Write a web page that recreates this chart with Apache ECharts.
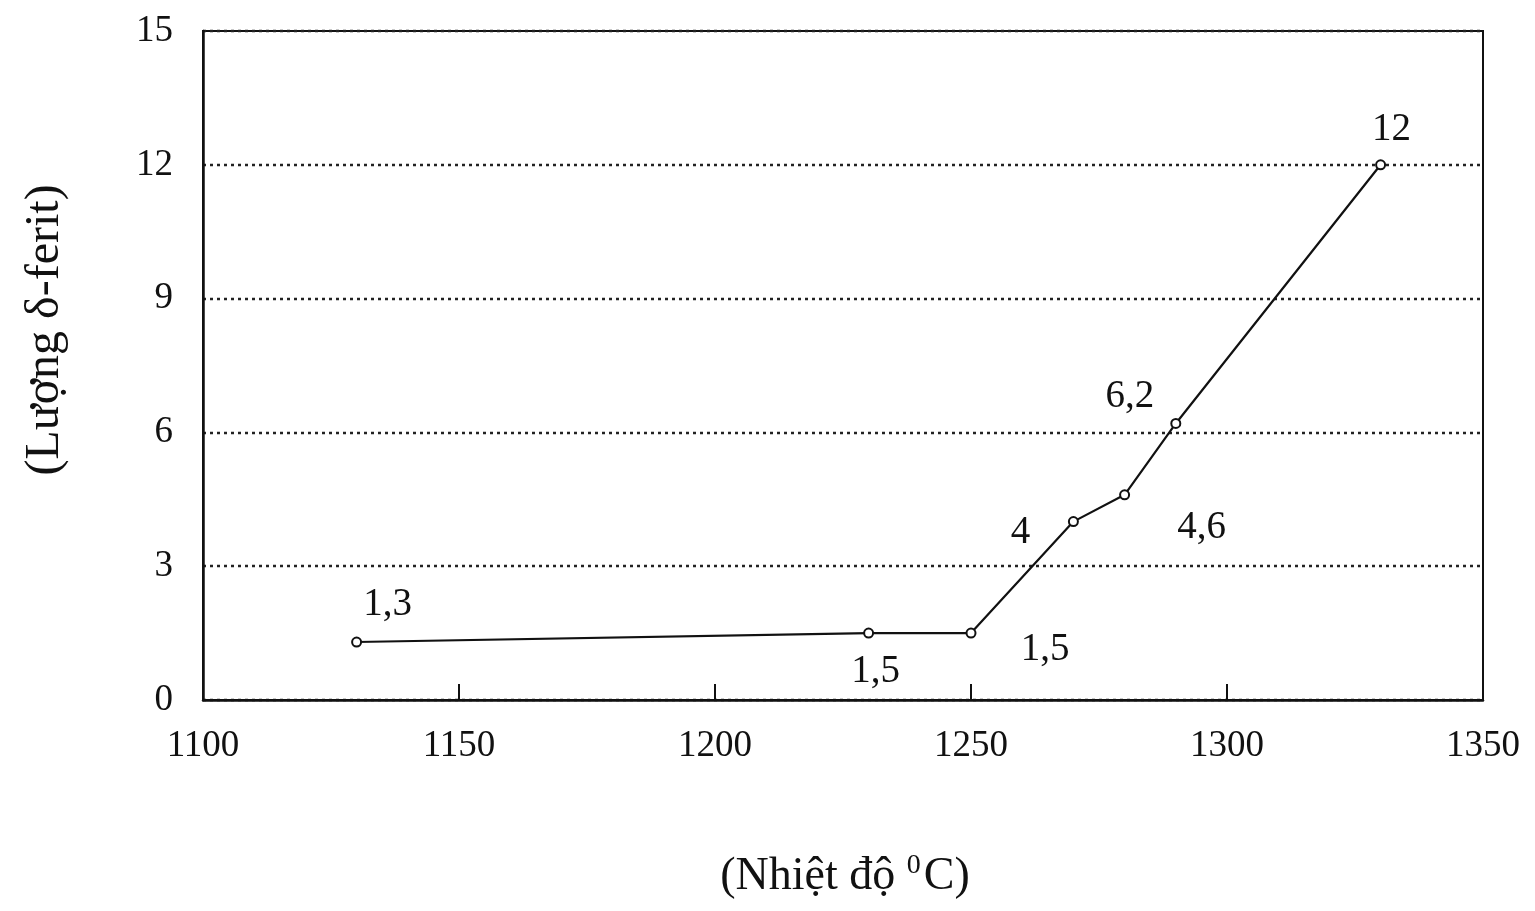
<!DOCTYPE html>
<html>
<head>
<meta charset="utf-8">
<script src="https://cdn.jsdelivr.net/npm/echarts@6/dist/echarts.min.js"></script>
<style>
html,body{margin:0;padding:0;background:#fff;}
#c{width:1535px;height:911px;}
</style>
</head>
<body>
<div id="c"></div>
<script>
const temperatures = [1130, 1230, 1250, 1270, 1280, 1290, 1330];
const ferrite = [1.3, 1.5, 1.5, 4, 4.6, 6.2, 12];
const xTicks = [1100, 1150, 1200, 1250, 1300, 1350];
const yTicks = [0, 3, 6, 9, 12, 15];

const FONT = '"Liberation Serif", "DejaVu Serif", serif';
const labelOffsets = [[31, -37], [7, 39], [74, 17], [-53, 11], [77, 33], [-46, -27], [11, -35]];

const chart = echarts.init(document.getElementById('c'));
chart.setOption({
  backgroundColor: '#fff',
  animation: false,
  grid: {left: 203, right: 52, top: 31, bottom: 211, show: true, borderColor: '#111', borderWidth: 2, backgroundColor: 'transparent'},
  xAxis: {
    type: 'value', min: xTicks[0], max: xTicks[xTicks.length - 1], interval: 50,
    axisLine: {show: true, lineStyle: {color: '#111', width: 2.5}},
    axisTick: {show: true, inside: true, length: 16, lineStyle: {color: '#111', width: 2}},
    axisLabel: {fontFamily: FONT, fontSize: 37, color: '#111', margin: 28, showMinLabel: true, showMaxLabel: true,
      formatter: v => String(v)},
    splitLine: {show: false}
  },
  yAxis: {
    type: 'value', min: yTicks[0], max: yTicks[yTicks.length - 1], interval: 3,
    axisLine: {show: true, lineStyle: {color: '#111', width: 2.5}},
    axisTick: {show: false},
    axisLabel: {fontFamily: FONT, fontSize: 37, color: '#111', margin: 30},
    splitLine: {show: true, lineStyle: {color: '#222', type: [3, 4], width: 2.4}}
  },
  graphic: [
    {type: 'text', x: 845, y: 877, style: {
      text: '(Nhiệt độ {s|0}C)', fontFamily: FONT, fontSize: 46, fill: '#111', align: 'center', verticalAlign: 'middle',
      rich: {s: {fontFamily: FONT, fontSize: 28, verticalAlign: 'top', padding: [0, 3, 22, 0], fill: '#111'}}
    }},
    {type: 'text', x: 45, y: 330, rotation: Math.PI / 2, style: {
      text: '(Lượng δ-ferit)', fontFamily: FONT, fontSize: 48, fill: '#111', align: 'center', verticalAlign: 'middle'
    }}
  ],
  series: [{
    type: 'line',
    data: temperatures.map((t, i) => ({
      value: [t, ferrite[i]],
      label: {show: true, position: 'inside', offset: labelOffsets[i]}
    })),
    symbol: 'circle',
    symbolSize: 9,
    itemStyle: {color: '#fff', borderColor: '#111', borderWidth: 2},
    lineStyle: {color: '#111', width: 2.2},
    label: {
      fontFamily: FONT, fontSize: 39, color: '#111',
      formatter: p => String(p.value[1]).replace('.', ',')
    }
  }]
});
</script>
</body>
</html>
